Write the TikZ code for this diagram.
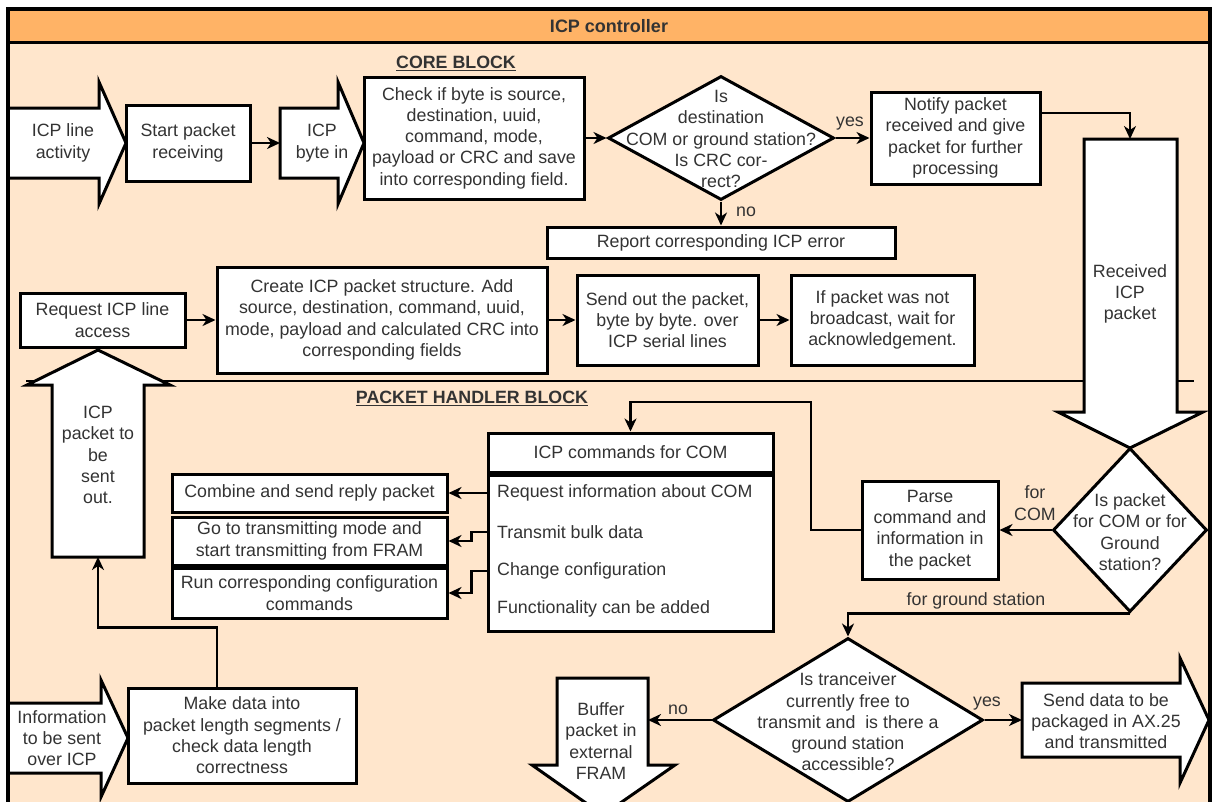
\documentclass[tikz,border=0pt]{standalone}
\usepackage{fontspec}
\setmainfont{Liberation Sans}
\usetikzlibrary{arrows.meta,shapes.geometric}
\definecolor{lane}{HTML}{FFE6CC}
\definecolor{laneh}{HTML}{FFB366}
\definecolor{ink}{HTML}{333333}

\begin{document}
\begin{tikzpicture}[x=1pt,y=-1pt,
  font=\fontsize{17.8}{21.3}\selectfont,
  box/.style={draw=black, fill=white, line width=3pt, inner sep=0pt, align=center, text=ink},
  blk/.style={draw=black, fill=white, line width=3pt, line join=miter},
  dia/.style={diamond, draw=black, fill=white, line width=3pt, inner sep=0pt},
  txt/.style={align=center, text=ink, inner sep=0pt},
  lbl/.style={text=ink, inner sep=0pt, align=center},
  conn/.style={draw=black, line width=2.2pt, -{Stealth[length=13pt,width=12pt,inset=4pt]}},
  sect/.style={text=ink, inner sep=0pt, font=\fontsize{17.8}{21}\selectfont\bfseries}]

\useasboundingbox (0,0) rectangle (1213,801);
\clip (0,0) rectangle (1213,801);

% lane background and header band
\fill[lane] (8,9) rectangle (1210,830);
\fill[laneh] (8,9) rectangle (1210,42);
\node[txt, font=\fontsize{18}{21}\selectfont\bfseries] (title) at (609,26) {ICP controller};

% divider between the two blocks
\draw[line width=2pt] (26,381) -- (1194,381);

\node[sect] (core) at (456,63) {\underline{CORE BLOCK}};
\node[sect] (phb) at (472,398) {\underline{PACKET HANDLER BLOCK}};

% ---------------- core block ----------------
\draw[blk] (8,108) -- (99,108) -- (99,82) -- (126,143) -- (99,204) -- (99,178) -- (8,178) -- cycle;
\node[txt] (ila) at (63,143) {ICP line\\activity};

\node[box, minimum width=124pt, minimum height=76pt] (spr) at (188,143) {Start packet\\receiving};

\draw[blk] (280,108) -- (338,108) -- (338,82) -- (364,143) -- (338,204) -- (338,178) -- (280,178) -- cycle;
\node[txt] (ibi) at (322,143) {ICP\\byte in};
\coordinate (ibiT) at (280,143);

\node[box, minimum width=220pt, minimum height=122pt] (chk) at (474,138)
  {Check if byte is source,\\destination, uuid,\\command, mode,\\payload or CRC and save\\into corresponding field.};

\node[dia, minimum width=226pt, minimum height=124pt] (d1) at (721,138) {};
\node[txt] (d1t) at (721,139) {Is\\destination\\COM or ground station?\\Is CRC cor-\\rect?};

\node[box, minimum width=169pt, minimum height=92pt] (ntf) at (955.5,138)
  {Notify packet\\received and give\\packet for further\\processing};

\node[box, minimum width=348pt, minimum height=31pt] (rpt) at (721,242.5) {Report corresponding ICP error};

% received packet, pointing down
\draw[blk] (1084,139) -- (1177,139) -- (1177,412) -- (1203,412) -- (1130,448) -- (1058,412) -- (1084,412) -- cycle;
\node[txt] (rcv) at (1130,294) {Received\\ICP\\packet};
\coordinate (rcvT) at (1130,139);

\node[box, minimum width=165pt, minimum height=54pt] (req) at (102.5,320) {Request ICP line\\access};
\node[box, minimum width=330pt, minimum height=106pt] (crt) at (382,320)
  {Create ICP packet structure. Add\\source, destination, command, uuid,\\mode, payload and calculated CRC into\\corresponding fields};
\node[box, minimum width=181pt, minimum height=90pt] (snd) at (667.5,320)
  {Send out the packet,\\byte by byte. over\\ICP serial lines};
\node[box, minimum width=183pt, minimum height=90pt] (ifp) at (882.5,320)
  {If packet was not\\broadcast, wait for\\acknowledgement.};

% ---------------- packet handler block ----------------
\draw[blk] (52,557) -- (52,385) -- (27,385) -- (98,350) -- (170,385) -- (144,385) -- (144,557) -- cycle;
\node[txt] (up) at (98,455) {ICP\\packet to\\be\\sent\\out.};
\coordinate (upT) at (98,557);

\node[box, minimum width=285pt, minimum height=39pt] (cmdh) at (630.5,452.5) {ICP commands for COM};
\node[box, minimum width=285pt, minimum height=156pt, anchor=north] (cmdb) at (cmdh.south) {};
\node[lbl, anchor=west] (it1) at (497,493) {Request information about COM};
\node[lbl, anchor=west] (it2) at (497,532) {Transmit bulk data};
\node[lbl, anchor=west] (it3) at (497,571) {Change configuration};
\node[lbl, anchor=west] (it4) at (497,609) {Functionality can be added};

\node[box, minimum width=275pt, minimum height=38pt] (cmb) at (309.5,493) {Combine and send reply packet};
\node[box, minimum width=275pt, minimum height=48pt] (go) at (309.5,541)
  {Go to transmitting mode and\\start transmitting from FRAM};
\node[box, minimum width=275pt, minimum height=50pt] (run) at (309.5,593)
  {Run corresponding configuration\\commands};

\node[box, minimum width=136pt, minimum height=98pt] (prs) at (930,530)
  {Parse\\command and\\information in\\the packet};

\node[dia, minimum width=154pt, minimum height=164pt] (d2) at (1130,530) {};
\node[txt] (d2t) at (1130,532) {Is packet\\for COM or for\\Ground\\station?};

\node[dia, minimum width=270pt, minimum height=164pt] (d3) at (848,720) {};
\node[txt] (d3t) at (848,722) {Is tranceiver\\currently free to\\transmit and\ \ is there a\\ground station\\accessible?};

% buffer packet, pointing down
\draw[blk] (557,678) -- (648,678) -- (648,765) -- (675,765) -- (603,815) -- (532,765) -- (557,765) -- cycle;
\node[txt] (buf) at (601,741) {Buffer\\packet in\\external\\FRAM};
\coordinate (bufR) at (648,720);

% send data, pointing right
\draw[blk] (1022,683) -- (1180,683) -- (1180,658) -- (1209,720) -- (1180,783) -- (1180,757) -- (1022,757) -- cycle;
\node[txt] (sdt) at (1106,721) {Send data to be\\packaged in AX.25\\and transmitted};
\coordinate (sdL) at (1022,720);

% information to be sent, pointing right
\draw[blk] (8,703) -- (101,703) -- (101,680) -- (128,738) -- (101,797) -- (101,773) -- (8,773) -- cycle;
\node[txt] (inf) at (62,738) {Information\\to be sent\\over ICP};

\node[box, minimum width=228pt, minimum height=95pt] (mk) at (242,735.5)
  {Make data into\\packet length segments /\\check data length\\correctness};

% ---------------- connectors ----------------
\draw[conn] (spr.east) -- (ibiT);
\draw[conn] (chk.east) -- (d1.west);
\draw[conn] (d1.east) -- (ntf.west);
\node[lbl] (yes1) at (850,124) {yes};
\draw[conn] (d1.south) -- (rpt.north);
\node[lbl] (no1) at (746,212) {no};
\draw[conn] ([yshift=25pt]ntf.east) -| (rcvT);

\draw[conn] (req.east) -- (crt.west);
\draw[conn] (crt.east) -- (snd.west);
\draw[conn] (snd.east) -- (ifp.west);

\draw[conn] (d2.west) -- (prs.east);
\node[lbl] (forcom) at (1035,503) {for\\COM};
\coordinate (bend1) at (811,402);
\draw[conn] (prs.west) -| (bend1) -| (cmdh.north);

\draw[conn] (cmdb.west |- it1) -- (cmb.east);
\draw[conn] (cmdb.west |- it2) -- ++(-15,0) |- (go.east);
\draw[conn] (cmdb.west |- it3) -- ++(-15,0) |- (run.east);

\draw[conn] (d2.south) -| (d3.north);
\node[lbl] (forgs) at (976,601) {for ground station};

\draw[conn] (d3.west) -- (bufR);
\node[lbl] (no2) at (678,710) {no};
\draw[conn] (d3.east) -- (sdL);
\node[lbl] (yes2) at (987,704) {yes};

\draw[conn] ([xshift=-25pt]mk.north) -- ++(0,-59) -| (upT);

% lane border on top
\draw[line width=3pt] (8,42) -- (1210,42);
\draw[line width=3.5pt, line join=miter] (8,830) -- (8,9) -- (1210,9) -- (1210,830);
\end{tikzpicture}
\end{document}
